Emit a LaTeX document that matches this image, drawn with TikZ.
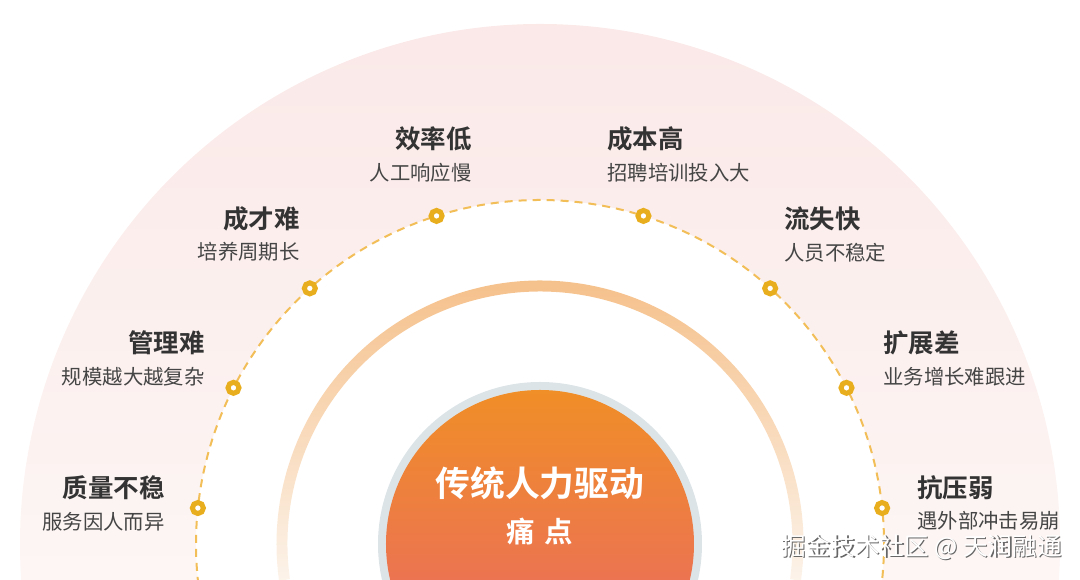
\documentclass[tikz,border=0pt]{standalone}
\usepackage{fontspec}
\newfontfamily\cjk[BoldFont={Noto Sans CJK SC Bold}]{Noto Sans CJK SC}
\usetikzlibrary{calc}

\definecolor{pinktop}{HTML}{FAE8E7}
\definecolor{pinkbot}{HTML}{FDF7F5}
\definecolor{ringtop}{HTML}{F5BF88}
\definecolor{ringmid}{HTML}{F7D3B0}
\definecolor{ringbot}{HTML}{FCF3EA}
\definecolor{dashgold}{HTML}{F2BE58}
\definecolor{dotgold}{HTML}{E9AE1E}
\definecolor{coregray}{HTML}{DDE4E8}
\definecolor{coretop}{HTML}{F08E27}
\definecolor{corebot}{HTML}{E9646A}
\definecolor{titlegray}{HTML}{333333}
\definecolor{subgray}{HTML}{454545}

\tikzset{
  title/.style={font=\cjk\bfseries\fontsize{14.5}{16}\selectfont, text=titlegray, inner sep=0},
  sub/.style={font=\cjk\fontsize{11.6}{13}\selectfont, text=subgray, inner sep=0},
  dot/.style={circle, draw=dotgold, fill=white, line width=0.1cm, minimum size=0.22cm, inner sep=0},
  dashline/.style={draw=dashgold, line width=0.04cm, dash pattern=on 0.16cm off 0.12cm},
  wmtext/.style={font=\cjk\fontsize{14}{16}\selectfont, inner sep=0, anchor=east}
}

\begin{document}
\begin{tikzpicture}[x=0.02cm, y=0.02cm]
    \useasboundingbox (-540,-36) rectangle (540,544);
    \clip (-540,-36) rectangle (540,544);

    % outer pale band
    \shade[top color=pinktop, bottom color=pinkbot]
        (-8:520) arc[start angle=-8, end angle=188, radius=520]
        -- (188:344) arc[start angle=188, end angle=-8, radius=344] -- cycle;

    % middle ring
    \shade[top color=ringtop, middle color=ringmid, bottom color=ringbot]
        (-8:263.5) arc[start angle=-8, end angle=188, radius=263.5]
        -- (188:252.5) arc[start angle=188, end angle=-8, radius=252.5] -- cycle;

    % dashed track
    \draw[dashline] (-8:344) arc[start angle=-8, end angle=188, radius=344];

    % core
    \fill[coregray] (0,0) circle (162);
    \shade[top color=coretop, bottom color=corebot] (0,0) circle (154);
    \node[font=\cjk\bfseries\fontsize{19.8}{22}\selectfont, text=white, inner sep=0] (core) at (0,61) {传统人力驱动};
    \node[font=\cjk\bfseries\fontsize{16.2}{18}\selectfont, text=white, inner sep=0] (pain) at (0,12) {痛\,\,点};

    % dots on the track
    \foreach \ang [count=\i] in {174, 153, 132, 107.5, 72.5, 48, 27, 6}
        \node[dot] (d\i) at (\ang:344) {};

    % left labels
    \node[title, anchor=east] (t1) at (-375,56) {质量不稳};
    \node[sub, anchor=east] (s1) at (-375,22) {服务因人而异};
    \node[title, anchor=east] (t2) at (-335,201) {管理难};
    \node[sub, anchor=east] (s2) at (-335,167) {规模越大越复杂};
    \node[title, anchor=east] (t3) at (-240,325) {成才难};
    \node[sub, anchor=east] (s3) at (-240,292) {培养周期长};
    \node[title, anchor=east] (t4) at (-68,405) {效率低};
    \node[sub, anchor=east] (s4) at (-68,371) {人工响应慢};

    % right labels
    \node[title, anchor=west] (t5) at (67,405) {成本高};
    \node[sub, anchor=west] (s5) at (67,371) {招聘培训投入大};
    \node[title, anchor=west] (t6) at (244,325) {流失快};
    \node[sub, anchor=west] (s6) at (244,291) {人员不稳定};
    \node[title, anchor=west] (t7) at (343,201) {扩展差};
    \node[sub, anchor=west] (s7) at (343,167) {业务增长难跟进};
    \node[title, anchor=west] (t8) at (377,56) {抗压弱};
    \node[sub, anchor=west] (s8) at (377,23) {遇外部冲击易崩};

    % watermark
    \node[wmtext, text=black!60] (wmshadow) at (523.5,-4.5) {掘金技术社区 @ 天润融通};
    \node[wmtext, text=white] (wm) at (522,-3) {掘金技术社区 @ 天润融通};
\end{tikzpicture}
\end{document}
